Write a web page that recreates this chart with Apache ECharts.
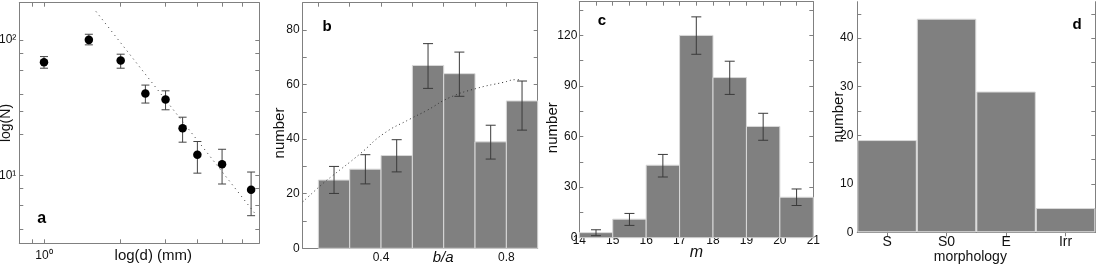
<!DOCTYPE html>
<html><head><meta charset="utf-8">
<script src="https://cdn.jsdelivr.net/npm/echarts@6/dist/echarts.min.js"></script>
<style>html,body{margin:0;padding:0;background:#fff}#c{width:1096px;height:264px}</style>
</head><body><div id="c"></div>
<script>
// ---------- Panel a : log(N) vs log(d) ----------
const aDiameter = [1, 1.5, 2, 2.5, 3, 3.5, 4, 5, 6.5];
const aCount = [68.5, 100, 70.4, 40.2, 36.3, 22.3, 14.2, 12.1, 7.85];
const aCountHigh = [75.3, 110, 78.4, 46.4, 42.1, 26.9, 17.8, 15.6, 10.6];
const aCountLow = [61.8, 91.9, 61.8, 34.2, 30.5, 17.6, 10.4, 8.65, 5.05];
const aFitDiameter = [1.6, 6.7];
const aFitCount = [162, 5.3];
const aXRange = [0.8, 7];
const aYRange = [3.16, 188];
const aXTicks = [0.9, 1, 2, 3, 4, 5, 6];
const aXTickLabels = [1];
const aYTicks = [4, 6, 8, 10, 20, 30, 40, 60, 80, 100];
const aYTickLabels = [10, 100];
// ---------- Panel b : b/a histogram ----------
const bEdges = [0.2, 0.3, 0.4, 0.5, 0.6, 0.7, 0.8, 0.9];
const bCounts = [25, 29, 34, 67, 64, 39, 54];
const bHigh = [30, 34.3, 39.8, 75, 71.9, 45.1, 61.3];
const bLow = [20.1, 23.6, 28, 58.6, 55.7, 32.7, 43.3];
const bCurveX = [0.15, 0.22, 0.243, 0.333, 0.407, 0.493, 0.546, 0.62, 0.705, 0.79, 0.832, 0.845];
const bCurveY = [17, 24.3, 26.4, 34.6, 41.9, 47.4, 50.5, 55.3, 58.6, 60.8, 61.8, 61.7];
const bXTicks = [0.2, 0.3, 0.4, 0.5, 0.6, 0.7, 0.8, 0.9];
const bXTickLabels = [0.4, 0.8];
const bYTicks = [0, 10, 20, 30, 40, 50, 60, 70, 80];
const bYTickLabels = [0, 20, 40, 60, 80];
// ---------- Panel c : m histogram ----------
const cEdges = [14, 15, 16, 17, 18, 19, 20, 21];
const cCounts = [3, 11, 43, 120, 95, 66, 24];
const cHigh = [4.7, 14.4, 49.4, 131, 104.7, 73.8, 28.9];
const cLow = [1.2, 7.3, 36, 108.8, 85, 57.8, 19.1];
const cXTicks = [14, 14.5, 15, 15.5, 16, 16.5, 17, 17.5, 18, 18.5, 19, 19.5, 20, 20.5, 21];
const cXTickLabels = [14, 15, 16, 17, 18, 19, 20, 21];
const cYTicks = [0, 15, 30, 45, 60, 75, 90, 105, 120, 135];
const cYTickLabels = [0, 30, 60, 90, 120];
// ---------- Panel d : morphology ----------
const dCategories = ['S', 'S0', 'E', 'Irr'];
const dCounts = [19, 44, 29, 5];
const dYTicks = [0, 5, 10, 15, 20, 25, 30, 35, 40, 45];
const dYTickLabels = [0, 10, 20, 30, 40];

const L = Math.log10;
const FONT = 'Liberation Sans';
const AX = '#808080';
const TXT = '#111';
const SUP = ['\u2070', '\u00b9', '\u00b2'];

function valAxis(pos, gi, min, max, ticks, labels, extra) {
  const mirror = (pos === 'top' || pos === 'right');
  return Object.assign({
    type: 'value', gridIndex: gi, position: pos, min: min, max: max, nameMoveOverlap: false,
    axisLine: {show: true, onZero: false, lineStyle: {color: AX, width: 1}},
    axisTick: {show: true, inside: true, length: 4, customValues: ticks, lineStyle: {color: AX}},
    axisLabel: mirror ? {show: false} : {show: true, customValues: labels, color: TXT, fontFamily: FONT, fontSize: 12, margin: 3},
    splitLine: {show: false}
  }, extra || {});
}
function nameStyle(size, extra) {
  return Object.assign({fontFamily: FONT, fontSize: size, color: TXT}, extra || {});
}

function histItem(params, api) {
  const p0 = api.coord([api.value(0), 0]);
  const p1 = api.coord([api.value(1), api.value(2)]);
  return {type: 'rect', shape: {x: p0[0], y: p1[1], width: p1[0] - p0[0], height: p0[1] - p1[1]},
    style: {fill: '#808080', stroke: '#d9d9d9', lineWidth: 1}};
}
function errItem(cap, color) {
  return function (params, api) {
    const x = api.value(0);
    const lo = api.coord([x, api.value(1)]);
    const hi = api.coord([x, api.value(2)]);
    const st = {stroke: color, lineWidth: 1};
    return {type: 'group', children: [
      {type: 'line', shape: {x1: hi[0], y1: hi[1], x2: lo[0], y2: lo[1]}, style: st},
      {type: 'line', shape: {x1: hi[0] - cap, y1: hi[1], x2: hi[0] + cap, y2: hi[1]}, style: st},
      {type: 'line', shape: {x1: lo[0] - cap, y1: lo[1], x2: lo[0] + cap, y2: lo[1]}, style: st}
    ]};
  };
}

const grids = [
  {left: 19.3, top: 2.7, width: 240, height: 240.6},
  {left: 302.7, top: 2.7, width: 235, height: 245.6},
  {left: 579.3, top: 1.7, width: 234, height: 236},
  {left: 857.3, top: 1.7, width: 238, height: 230.6}
].map(g => Object.assign({containLabel: false, outerBoundsMode: 'none'}, g));

const supFmt = v => '10' + SUP[Math.round(v)];

const xAxes = [
  valAxis('bottom', 0, L(aXRange[0]), L(aXRange[1]), aXTicks.map(L), aXTickLabels.map(L), {
    axisLabel: {show: true, customValues: aXTickLabels.map(L), formatter: supFmt, color: TXT, fontFamily: FONT, fontSize: 12, margin: 6},
    name: 'log(d) (mm)', nameLocation: 'middle', nameGap: 5, nameTextStyle: nameStyle(15, {padding: [0, 0, 0, 28]})
  }),
  valAxis('top', 0, L(aXRange[0]), L(aXRange[1]), aXTicks.map(L), null),
  valAxis('bottom', 1, 0.15, 0.9, bXTicks, bXTickLabels, {
    axisLabel: {show: true, customValues: bXTickLabels, color: TXT, fontFamily: FONT, fontSize: 12, margin: 3},
    name: 'b/a', nameLocation: 'middle', nameGap: 2, nameTextStyle: nameStyle(15, {fontStyle: 'italic', padding: [0, 0, 0, 46]})
  }),
  valAxis('top', 1, 0.15, 0.9, bXTicks, null),
  valAxis('bottom', 2, 14, 21, cXTicks, cXTickLabels, {
    axisLabel: {show: true, customValues: cXTickLabels, color: TXT, fontFamily: FONT, fontSize: 12, margin: -3},
    name: 'm', nameLocation: 'middle', nameGap: 7, nameTextStyle: nameStyle(16, {fontStyle: 'italic'})
  }),
  valAxis('top', 2, 14, 21, cXTicks, null),
  {type: 'category', gridIndex: 3, position: 'bottom', data: dCategories, boundaryGap: true, nameMoveOverlap: false,
    axisLine: {show: true, lineStyle: {color: AX}},
    axisTick: {show: true, inside: true, length: 4, alignWithLabel: true, lineStyle: {color: AX}},
    axisLabel: {color: TXT, fontFamily: FONT, fontSize: 14, margin: 3},
    name: 'morphology', nameLocation: 'middle', nameGap: 18, nameTextStyle: nameStyle(14, {padding: [0, 12, 0, 0]})},
  {type: 'category', gridIndex: 3, position: 'top', data: dCategories, boundaryGap: true,
    axisLine: {show: true, lineStyle: {color: AX}},
    axisTick: {show: true, inside: true, length: 4, alignWithLabel: true, lineStyle: {color: AX}},
    axisLabel: {show: false}}
];
const yAxes = [
  valAxis('left', 0, L(aYRange[0]), L(aYRange[1]), aYTicks.map(L), aYTickLabels.map(L), {
    axisLabel: {show: true, customValues: aYTickLabels.map(L), formatter: supFmt, color: TXT, fontFamily: FONT, fontSize: 12, margin: 3},
    name: 'log(N)', nameLocation: 'middle', nameGap: 6, nameRotate: 90, nameTextStyle: nameStyle(14)
  }),
  valAxis('right', 0, L(aYRange[0]), L(aYRange[1]), aYTicks.map(L), null),
  valAxis('left', 1, 0, 90, bYTicks, bYTickLabels, {
    name: 'number', nameLocation: 'middle', nameGap: 15, nameRotate: 90, nameTextStyle: nameStyle(15, {padding: [0, 15, 0, 0]})
  }),
  valAxis('right', 1, 0, 90, bYTicks, null),
  valAxis('left', 2, 0, 140, cYTicks, cYTickLabels, {
    axisLabel: {show: true, customValues: cYTickLabels, color: TXT, fontFamily: FONT, fontSize: 12, margin: 2},
    name: 'number', nameLocation: 'middle', nameGap: 19, nameRotate: 90, nameTextStyle: nameStyle(15, {padding: [0, 16, 0, 0]})
  }),
  valAxis('right', 2, 0, 140, cYTicks, null),
  valAxis('left', 3, 0, 47.5, dYTicks, dYTickLabels, {
    axisLabel: {show: true, customValues: dYTickLabels, color: TXT, fontFamily: FONT, fontSize: 12, margin: 4},
    name: 'number', nameLocation: 'middle', nameGap: 11, nameRotate: 90, nameTextStyle: nameStyle(15)
  }),
  valAxis('right', 3, 0, 47.5, dYTicks, null)
];

const series = [
  // panel a
  {type: 'custom', xAxisIndex: 0, yAxisIndex: 0, renderItem: errItem(4, '#444'), z: 2,
    encode: {x: 0, y: [1, 2]},
    data: aDiameter.map((d, i) => [L(d), L(aCountLow[i]), L(aCountHigh[i])])},
  {type: 'scatter', xAxisIndex: 0, yAxisIndex: 0, symbol: 'circle', symbolSize: 8.5, z: 3,
    itemStyle: {color: '#000', opacity: 1}, data: aDiameter.map((d, i) => [L(d), L(aCount[i])])},
  {type: 'line', xAxisIndex: 0, yAxisIndex: 0, showSymbol: false, z: 1,
    lineStyle: {color: '#333', width: 1, type: [1, 4]},
    data: aFitDiameter.map((d, i) => [L(d), L(aFitCount[i])])},
  // panel b
  {type: 'custom', xAxisIndex: 2, yAxisIndex: 2, renderItem: histItem, z: 1, encode: {x: [0, 1], y: 2},
    data: bCounts.map((v, i) => [bEdges[i], bEdges[i + 1], v])},
  {type: 'custom', xAxisIndex: 2, yAxisIndex: 2, renderItem: errItem(5, '#3a3a3a'), z: 2, encode: {x: 0, y: [1, 2]},
    data: bCounts.map((v, i) => [(bEdges[i] + bEdges[i + 1]) / 2, bLow[i], bHigh[i]])},
  {type: 'line', xAxisIndex: 2, yAxisIndex: 2, showSymbol: false, smooth: true, z: 3,
    lineStyle: {color: '#333', width: 1, type: [1, 3]},
    data: bCurveX.map((x, i) => [x, bCurveY[i]])},
  // panel c
  {type: 'custom', xAxisIndex: 4, yAxisIndex: 4, renderItem: histItem, z: 1, encode: {x: [0, 1], y: 2},
    data: cCounts.map((v, i) => [cEdges[i], cEdges[i + 1], v])},
  {type: 'custom', xAxisIndex: 4, yAxisIndex: 4, renderItem: errItem(5, '#3a3a3a'), z: 2, encode: {x: 0, y: [1, 2]},
    data: cCounts.map((v, i) => [(cEdges[i] + cEdges[i + 1]) / 2, cLow[i], cHigh[i]])},
  // panel d
  {type: 'bar', xAxisIndex: 6, yAxisIndex: 6, barWidth: '100%', z: 1,
    itemStyle: {color: '#808080', borderColor: '#d9d9d9', borderWidth: 1},
    data: dCounts}
];

const chart = echarts.init(document.getElementById('c'), null, {renderer: 'canvas'});
chart.setOption({
  animation: false,
  backgroundColor: '#fff',
  grid: grids,
  xAxis: xAxes,
  yAxis: yAxes,
  series: series,
  graphic: [
    {type: 'text', x: 41.7, y: 219, silent: true, style: {text: 'a', font: 'bold 16px "Liberation Sans"', fill: '#000', align: 'center', verticalAlign: 'middle'}},
    {type: 'text', x: 327, y: 27, silent: true, style: {text: 'b', font: 'bold 15px "Liberation Sans"', fill: '#000', align: 'center', verticalAlign: 'middle'}},
    {type: 'text', x: 602, y: 21, silent: true, style: {text: 'c', font: 'bold 15px "Liberation Sans"', fill: '#000', align: 'center', verticalAlign: 'middle'}},
    {type: 'text', x: 1077, y: 25, silent: true, style: {text: 'd', font: 'bold 15px "Liberation Sans"', fill: '#000', align: 'center', verticalAlign: 'middle'}}
  ]
});
</script></body></html>
